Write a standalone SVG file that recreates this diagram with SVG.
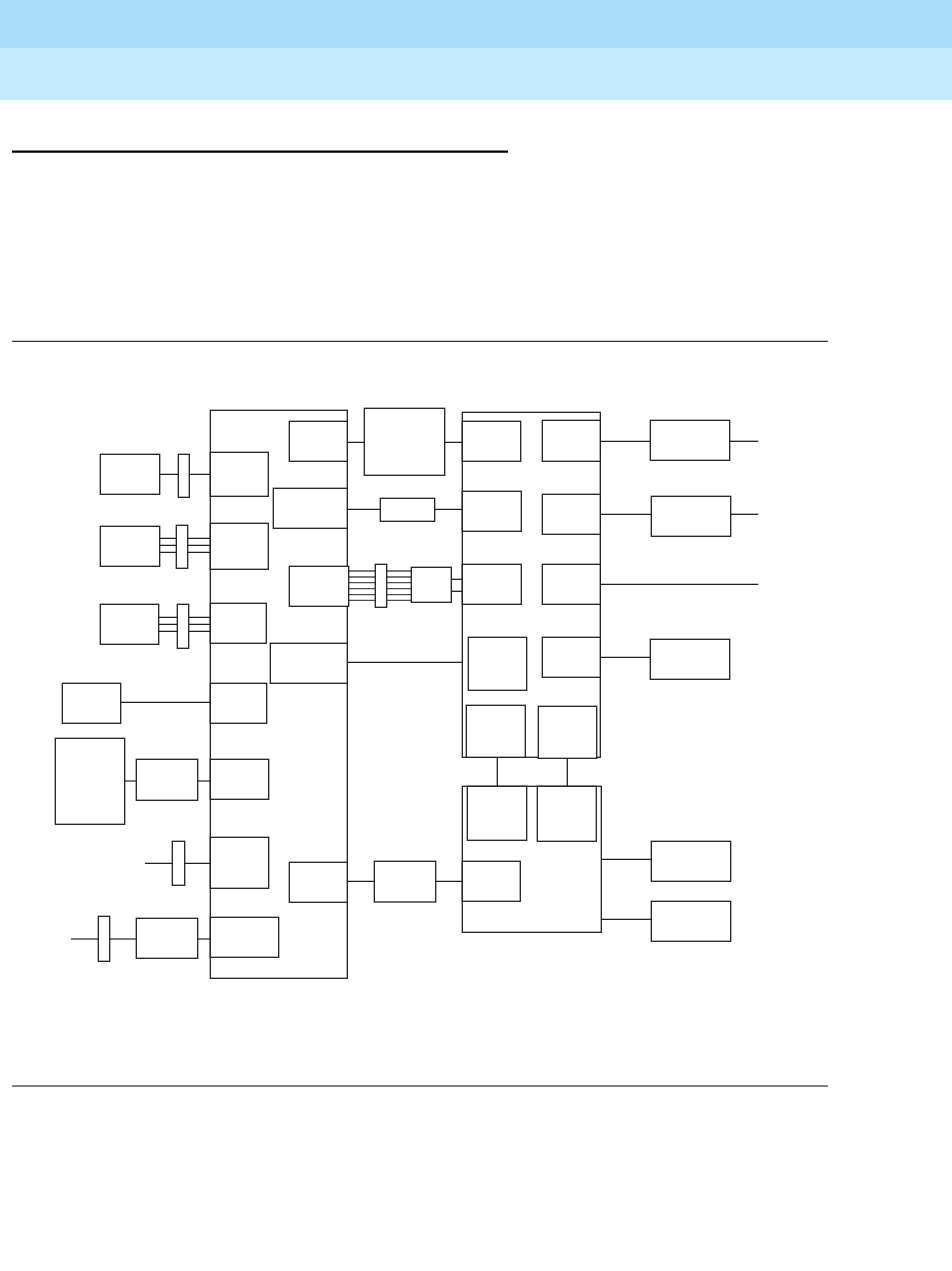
<svg xmlns="http://www.w3.org/2000/svg" width="952" height="1271" viewBox="0 0 952 1271">
<style>
.b{fill:#fff;stroke:#231f20;stroke-width:1.3}
.c{fill:none;stroke:#231f20;stroke-width:1.3}
.g{fill:none;stroke:#4d4d4f;stroke-width:1.3}
.d{fill:none;stroke:#231f20;stroke-width:1.3;stroke-dasharray:2.5,2}
.r{stroke:#000;fill:none}
</style>
<rect x="0" y="0" width="952" height="48.5" fill="#a8dcf8"/>
<rect x="0" y="48.5" width="952" height="51.5" fill="#c4ebfe"/>
<line class="r" x1="12" y1="151.7" x2="508" y2="151.7" stroke-width="2.2"/>
<line class="r" x1="12" y1="341.3" x2="828" y2="341.3" stroke-width="1"/>
<line class="r" x1="12" y1="1086" x2="828" y2="1086" stroke-width="1"/>

<g id="connectors">
<line class="c" x1="159.7" y1="474.3" x2="210.3" y2="474.3"/>
<line class="c" x1="159.7" y1="538.3" x2="210.3" y2="538.3"/>
<line class="c" x1="159.7" y1="545.3" x2="210.3" y2="545.3"/>
<line class="c" x1="159.7" y1="552.3" x2="210.3" y2="552.3"/>
<line class="c" x1="158.7" y1="617.3" x2="210.3" y2="617.3"/>
<line class="c" x1="158.7" y1="624.3" x2="210.3" y2="624.3"/>
<line class="c" x1="158.7" y1="631.3" x2="210.3" y2="631.3"/>
<line class="c" x1="120.7" y1="702.3" x2="210.3" y2="702.3"/>
<line class="g" x1="124.7" y1="781" x2="210.3" y2="781"/>
<line class="c" x1="145" y1="863.3" x2="210.3" y2="863.3"/>
<line class="g" x1="71" y1="939" x2="210.3" y2="939"/>
<line class="c" x1="347.3" y1="442.3" x2="462.3" y2="442.3"/>
<line class="c" x1="347.3" y1="509.3" x2="462.3" y2="509.3"/>
<g class="g">
<line x1="348.7" y1="571" x2="411.3" y2="571"/>
<line x1="348.7" y1="577" x2="411.3" y2="577"/>
<line x1="348.7" y1="582.7" x2="411.3" y2="582.7"/>
<line x1="348.7" y1="588.7" x2="411.3" y2="588.7"/>
<line x1="348.7" y1="594.7" x2="411.3" y2="594.7"/>
<line x1="348.7" y1="600.3" x2="411.3" y2="600.3"/>
</g>
<line class="c" x1="451.3" y1="579.3" x2="462.3" y2="579.3"/>
<line class="c" x1="451.3" y1="591.3" x2="462.3" y2="591.3"/>
<line class="c" x1="347.3" y1="662.3" x2="468.3" y2="662.3"/>
<line class="c" x1="347.3" y1="881.3" x2="462.3" y2="881.3"/>
<line class="d" x1="496.3" y1="690.3" x2="496.3" y2="705.3"/>
<line class="c" x1="497.3" y1="757.3" x2="497.3" y2="786.3"/>
<line class="c" x1="567.3" y1="758.3" x2="567.3" y2="786.3"/>
<line class="c" x1="600.3" y1="441.3" x2="650.3" y2="441.3"/>
<line class="c" x1="729.7" y1="441.3" x2="758.3" y2="441.3"/>
<line class="c" x1="600.3" y1="514.3" x2="651.3" y2="514.3"/>
<line class="c" x1="730.7" y1="514.3" x2="758.3" y2="514.3"/>
<line class="c" x1="600.3" y1="584.3" x2="758.3" y2="584.3"/>
<line class="c" x1="600.3" y1="657.3" x2="650.3" y2="657.3"/>
<line class="c" x1="601.3" y1="859.3" x2="651.3" y2="859.3"/>
<line class="c" x1="601.3" y1="919.3" x2="651.3" y2="919.3"/>
</g>

<g id="shelf-left"><rect class="b" x="210.3" y="410.3" width="137" height="568"/></g>
<g id="shelf-right-top"><rect class="b" x="462.3" y="412.3" width="138" height="345"/></g>
<g id="shelf-right-bottom"><rect class="b" x="462.3" y="786.3" width="139" height="146"/></g>

<g id="n1"><rect class="b" x="100.3" y="454.3" width="59.4" height="40"/></g>
<g id="n2"><rect class="b" x="178.3" y="454.3" width="11" height="43"/></g>
<g id="n3"><rect class="b" x="210.3" y="452.3" width="58" height="44"/></g>
<g id="n4"><rect class="b" x="100.3" y="526.3" width="59.4" height="40"/></g>
<g id="n5"><rect class="b" x="176.3" y="525.3" width="11.4" height="43"/></g>
<g id="n6"><rect class="b" x="210.3" y="523.3" width="58" height="46"/></g>
<g id="n7"><rect class="b" x="100.3" y="604.3" width="58.4" height="40"/></g>
<g id="n8"><rect class="b" x="177.3" y="604.3" width="11.4" height="44"/></g>
<g id="n9"><rect class="b" x="210.3" y="603.3" width="56" height="40"/></g>
<g id="n10"><rect class="b" x="62.3" y="683.3" width="58.4" height="40"/></g>
<g id="n11"><rect class="b" x="210.3" y="683.3" width="56.4" height="40"/></g>
<g id="n12"><rect class="b" x="55.3" y="738.3" width="69.4" height="86"/></g>
<g id="n13"><rect class="b" x="136.3" y="759.3" width="61.4" height="41"/></g>
<g id="n14"><rect class="b" x="210.3" y="759.3" width="58.4" height="40"/></g>
<g id="n15"><rect class="b" x="172.3" y="841.3" width="12.4" height="44"/></g>
<g id="n16"><rect class="b" x="210.3" y="837.3" width="58.4" height="51"/></g>
<g id="n17"><rect class="b" x="98.3" y="916.3" width="11.4" height="45"/></g>
<g id="n18"><rect class="b" x="136.3" y="918.3" width="61.4" height="40"/></g>
<g id="n19"><rect class="b" x="210.3" y="917.3" width="68.4" height="40"/></g>

<g id="n20"><rect class="b" x="289.3" y="421.3" width="58" height="40"/></g>
<g id="n21"><rect class="b" x="273.3" y="488.3" width="74" height="40"/></g>
<g id="n22"><rect class="b" x="289.3" y="566.3" width="59.4" height="40"/></g>
<g id="n23"><rect class="b" x="270.3" y="643.3" width="77" height="40"/></g>
<g id="n24"><rect class="b" x="289.3" y="862.3" width="58" height="40"/></g>

<g id="n25"><rect class="b" x="364.3" y="408.3" width="80.4" height="67"/></g>
<g id="n26"><rect class="b" x="380.3" y="498.3" width="54.4" height="23"/></g>
<g id="n27"><rect class="b" x="375.3" y="564.3" width="11.4" height="43"/></g>
<g id="n28"><rect class="b" x="411.3" y="567.3" width="40" height="35"/></g>
<g id="n29"><rect class="b" x="374.3" y="861.3" width="61.4" height="40.7"/></g>

<g id="n30"><rect class="b" x="462.3" y="421.3" width="58.4" height="40"/></g>
<g id="n31"><rect class="b" x="542.3" y="420.3" width="58" height="41"/></g>
<g id="n32"><rect class="b" x="462.3" y="491.3" width="59" height="40"/></g>
<g id="n33"><rect class="b" x="542.3" y="494.3" width="58" height="40"/></g>
<g id="n34"><rect class="b" x="462.3" y="564.3" width="59" height="40"/></g>
<g id="n35"><rect class="b" x="542.3" y="564.3" width="58" height="40"/></g>
<g id="n36"><rect class="b" x="468.3" y="637.3" width="58.4" height="53"/></g>
<g id="n37"><rect class="b" x="542.3" y="637.3" width="58" height="40"/></g>
<g id="n38"><rect class="b" x="466.3" y="705.3" width="59" height="52"/></g>
<g id="n39"><rect class="b" x="538.3" y="706.3" width="58.4" height="52"/></g>
<g id="n40"><rect class="b" x="467.3" y="786.3" width="59.4" height="54"/></g>
<g id="n41"><rect class="b" x="537.3" y="786.3" width="59" height="55"/></g>
<g id="n42"><rect class="b" x="462.3" y="861.3" width="58" height="40"/></g>

<g id="n43"><rect class="b" x="650.3" y="420.3" width="79.4" height="40"/></g>
<g id="n44"><rect class="b" x="651.3" y="496.3" width="79.4" height="40"/></g>
<g id="n45"><rect class="b" x="650.3" y="639.3" width="79.4" height="40"/></g>
<g id="n46"><rect class="b" x="651.3" y="841.3" width="79.4" height="40"/></g>
<g id="n47"><rect class="b" x="651.3" y="901.3" width="79.4" height="40"/></g>
</svg>
